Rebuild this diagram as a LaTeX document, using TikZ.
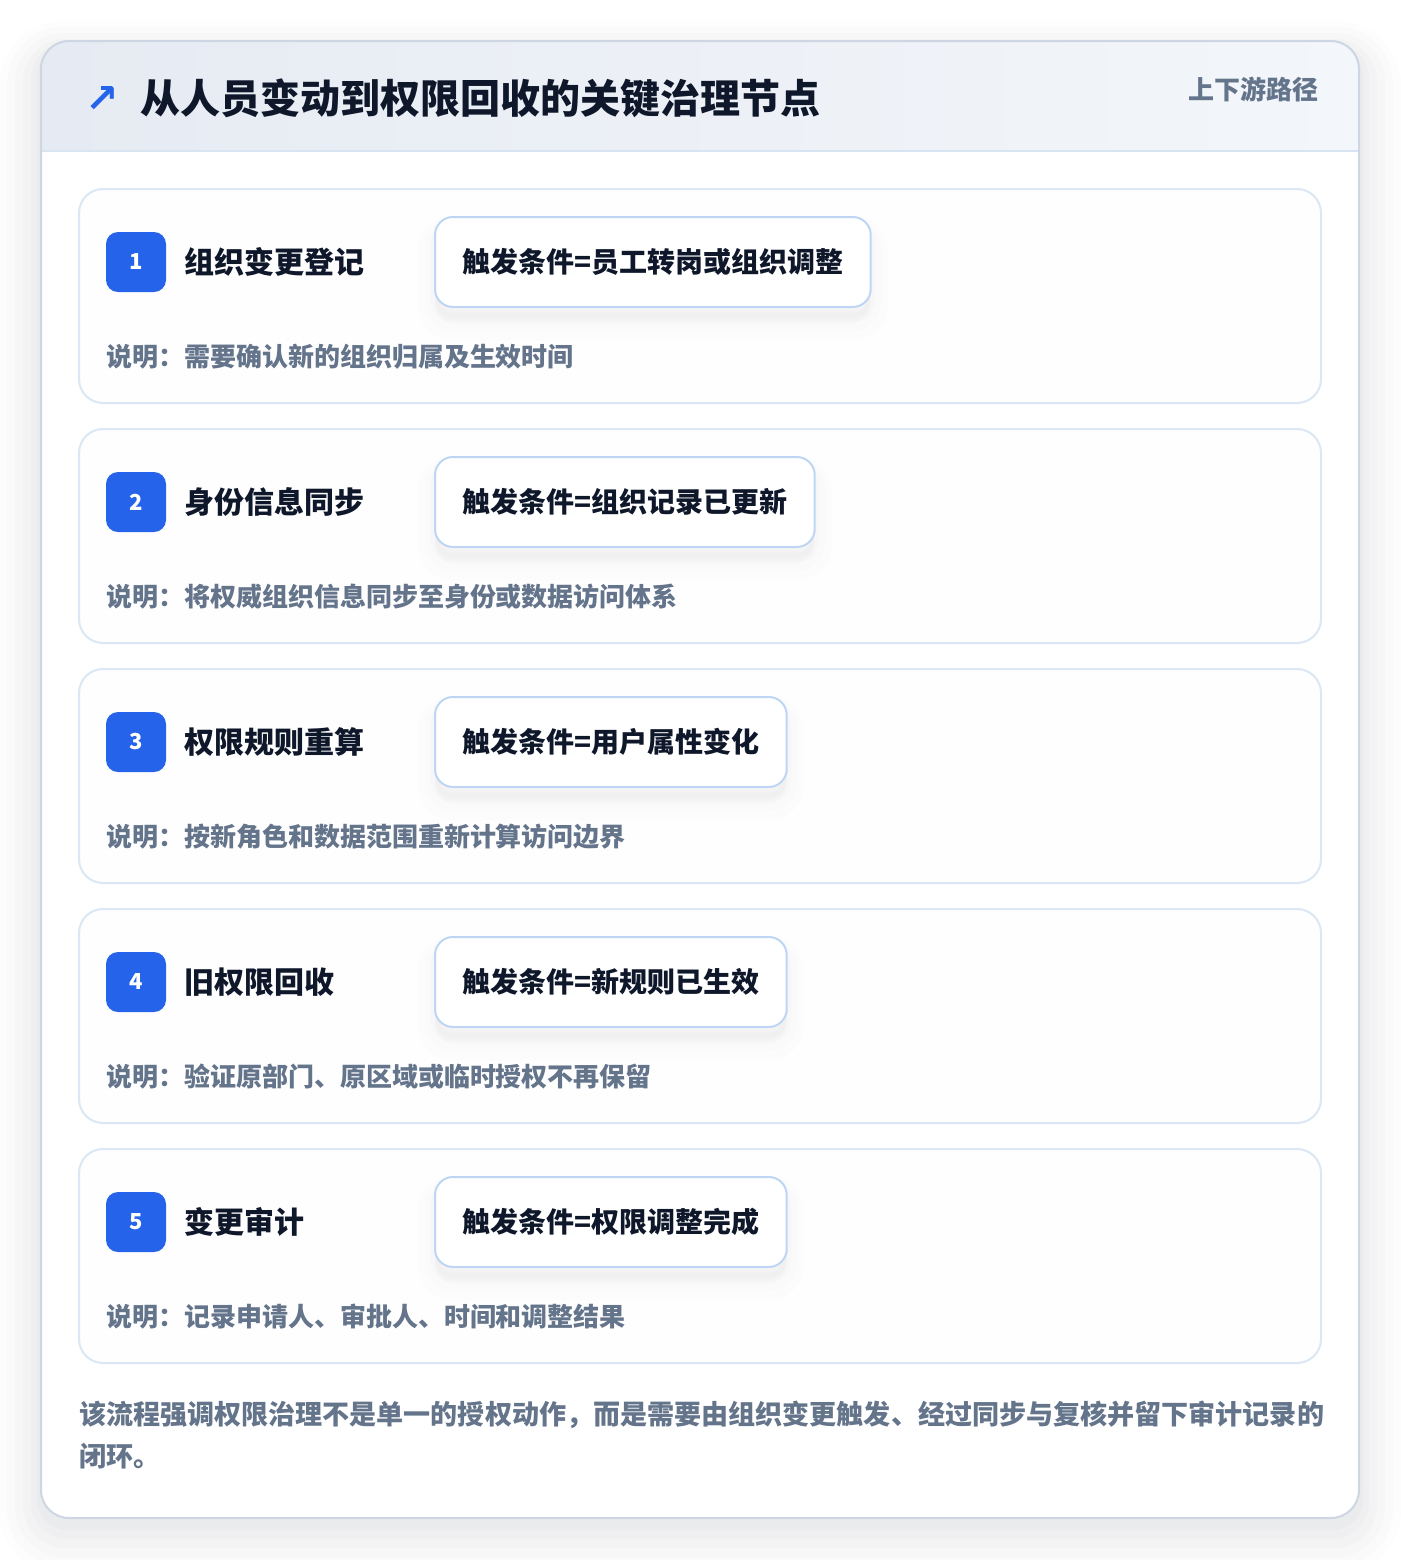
\documentclass[tikz,border=0pt]{standalone}
\usepackage{fontspec}
\setmainfont{Noto Sans CJK SC}
\newfontfamily\symfont{DejaVu Sans}
\usepackage{xcolor}
\usepackage{tikz}
\usetikzlibrary{positioning}
\usetikzlibrary{calc}

\definecolor{cardline}{HTML}{CDD6E2}
\definecolor{headl}{HTML}{E6EBF3}
\definecolor{headr}{HTML}{F3F6FA}
\definecolor{headrule}{HTML}{D9E4F2}
\definecolor{stepline}{HTML}{DCE7F6}
\definecolor{stepfill}{HTML}{FEFEFF}
\definecolor{trigline}{HTML}{BED6F3}
\definecolor{badgeblue}{HTML}{2563EB}
\definecolor{inkdark}{HTML}{0F172A}
\definecolor{inkgray}{HTML}{64748B}
\definecolor{shadowc}{HTML}{1E293B}

\begin{document}
\begin{tikzpicture}[x=0.75pt, y=-0.75pt,
  every node/.style={inner sep=0pt, outer sep=0pt},
  stepcard/.style={draw=stepline, line width=1.5pt, fill=stepfill, rounded corners=18pt,
    minimum width=931.5pt, minimum height=160.5pt},
  numbadge/.style={fill=badgeblue, rounded corners=9pt, minimum size=45pt, text=white,
    font=\fontsize{16.5}{20}\selectfont\bfseries},
  steptitle/.style={text=inkdark, font=\fontsize{22.5}{27}\selectfont\bfseries},
  trigbox/.style={draw=trigline, line width=1.5pt, fill=white, rounded corners=13.5pt,
    minimum height=67.5pt, inner xsep=20.5pt, anchor=west, text=inkdark,
    font=\fontsize{21}{25}\selectfont\bfseries,
    preaction={fill=shadowc, draw=shadowc, line width=26pt, opacity=0.007, transform canvas={yshift=-12pt}},
    preaction={fill=shadowc, draw=shadowc, line width=16pt, opacity=0.009, transform canvas={yshift=-10pt}},
    preaction={fill=shadowc, draw=shadowc, line width=7pt, opacity=0.012, transform canvas={yshift=-8pt}}},
  stepnote/.style={anchor=west, text=inkgray, font=\fontsize{19.5}{23}\selectfont\bfseries}
]
\useasboundingbox[fill=white] (0,0) rectangle (1400,1560);
%%%%%%%%%%%%%%%%%%%%%%%%%%%%%%%%%%%%%
\fill[shadowc, opacity=0.008, rounded corners=48pt] (-1,21) rectangle (1401,1575);
\fill[shadowc, opacity=0.01, rounded corners=42pt] (7,27) rectangle (1393,1566);
\fill[shadowc, opacity=0.012, rounded corners=37pt] (15,33) rectangle (1385,1557);
\fill[shadowc, opacity=0.014, rounded corners=32pt] (23,39) rectangle (1377,1548);
\fill[shadowc, opacity=0.016, rounded corners=27pt] (31,43) rectangle (1369,1539);
\fill[shadowc, opacity=0.018, rounded corners=23pt] (37,45) rectangle (1363,1530);
\fill[white, rounded corners=21pt] (41,41) rectangle (1359,1518);
\begin{scope}
\clip[rounded corners=21pt] (41,41) rectangle (1359,1518);
\shade[left color=headl, right color=headr] (41,41) rectangle (1359,151);
\draw[headrule, line width=1.5pt] (41,151) -- (1359,151);
\end{scope}
\draw[cardline, line width=1.5pt, rounded corners=21pt] (41,41) rectangle (1359,1518);
%%%%%%%%%%%%%%%%%%%%%%%%%%%%%%%%%%%%%
\node[text=badgeblue, font=\symfont\bfseries\fontsize{30}{34}\selectfont] (icon) at (102,99) {↗};
\node[anchor=west, text=inkdark, font=\fontsize{30}{36}\selectfont\bfseries] (title) at (140,98) {从人员变动到权限回收的关键治理节点};
\node[anchor=east, text=inkgray, font=\fontsize{19.5}{23}\selectfont\bfseries] (tag) at (1318,89) {上下游路径};
%%%%%%%%%%%%%%%%%%%%%%%%%%%%%%%%%%%%%
\node[stepcard] (card1) at (700,296) {};
\node[numbadge, below right=32.25pt and 20.25pt of card1.north west] (num1) {1};
\node[steptitle, right=13.5pt of num1] (ttl1) {组织变更登记};
\node[trigbox] (trg1) at (435,262) {触发条件=员工转岗或组织调整};
\node[stepnote] (note1) at (106,357) {说明：需要确认新的组织归属及生效时间};
%%%%%%%%%%%%%%%%%%%%%%%%%%%%%%%%%%%%%
\node[stepcard] (card2) at (700,536) {};
\node[numbadge, below right=32.25pt and 20.25pt of card2.north west] (num2) {2};
\node[steptitle, right=13.5pt of num2] (ttl2) {身份信息同步};
\node[trigbox] (trg2) at (435,502) {触发条件=组织记录已更新};
\node[stepnote] (note2) at (106,597) {说明：将权威组织信息同步至身份或数据访问体系};
%%%%%%%%%%%%%%%%%%%%%%%%%%%%%%%%%%%%%
\node[stepcard] (card3) at (700,776) {};
\node[numbadge, below right=32.25pt and 20.25pt of card3.north west] (num3) {3};
\node[steptitle, right=13.5pt of num3] (ttl3) {权限规则重算};
\node[trigbox] (trg3) at (435,742) {触发条件=用户属性变化};
\node[stepnote] (note3) at (106,837) {说明：按新角色和数据范围重新计算访问边界};
%%%%%%%%%%%%%%%%%%%%%%%%%%%%%%%%%%%%%
\node[stepcard] (card4) at (700,1016) {};
\node[numbadge, below right=32.25pt and 20.25pt of card4.north west] (num4) {4};
\node[steptitle, right=13.5pt of num4] (ttl4) {旧权限回收};
\node[trigbox] (trg4) at (435,982) {触发条件=新规则已生效};
\node[stepnote] (note4) at (106,1077) {说明：验证原部门、原区域或临时授权不再保留};
%%%%%%%%%%%%%%%%%%%%%%%%%%%%%%%%%%%%%
\node[stepcard] (card5) at (700,1256) {};
\node[numbadge, below right=32.25pt and 20.25pt of card5.north west] (num5) {5};
\node[steptitle, right=13.5pt of num5] (ttl5) {变更审计};
\node[trigbox] (trg5) at (435,1222) {触发条件=权限调整完成};
\node[stepnote] (note5) at (106,1317) {说明：记录申请人、审批人、时间和调整结果};
%%%%%%%%%%%%%%%%%%%%%%%%%%%%%%%%%%%%%
\node[anchor=north west, align=left, text=inkgray, font=\fontsize{20.3}{31.5}\selectfont\bfseries] (foot) at (79,1401)
  {该流程强调权限治理不是单一的授权动作，而是需要由组织变更触发、经过同步与复核并留下审计记录的\\闭环。};
\end{tikzpicture}
\end{document}
